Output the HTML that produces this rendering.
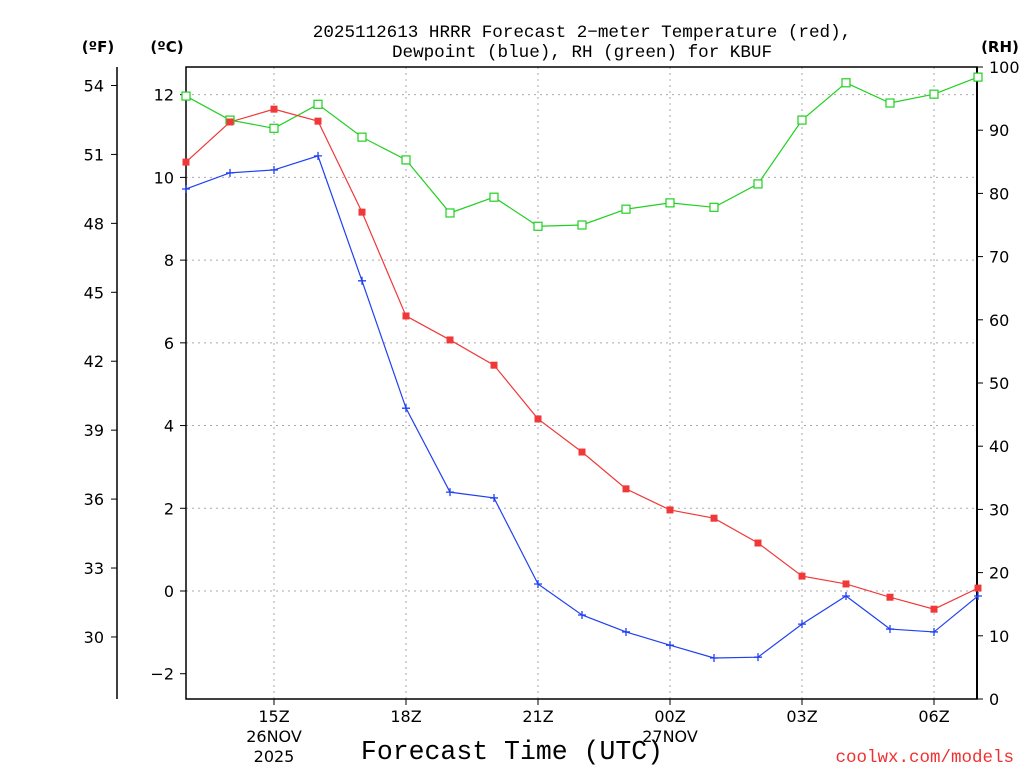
<!DOCTYPE html>
<html><head><meta charset="utf-8"><style>
body{margin:0;background:#fff}
svg{display:block;font-family:"DejaVu Sans","Liberation Sans",sans-serif}
.mono{font-family:"Liberation Mono","DejaVu Sans Mono",monospace}
</style></head><body>
<svg id="c" width="1024" height="768" viewBox="0 0 1024 768">
<g id="grid"></g>
<g id="axes"></g>
<g id="series"></g>
<text class="mono" x="582" y="37" text-anchor="middle" font-size="17.6">2025112613 HRRR Forecast 2−meter Temperature (red),</text>
<text class="mono" x="582" y="57" text-anchor="middle" font-size="17.6">Dewpoint (blue), RH (green) for KBUF</text>
<text x="98" y="52" text-anchor="middle" font-size="15" font-weight="bold">(ºF)</text>
<text x="167" y="52" text-anchor="middle" font-size="15" font-weight="bold">(ºC)</text>
<text x="1000" y="52" text-anchor="middle" font-size="15" font-weight="bold">(RH)</text>
<text class="mono" x="512" y="759" text-anchor="middle" font-size="26.5">Forecast Time (UTC)</text>
<text class="mono" x="1014" y="762" text-anchor="end" font-size="17.5" fill="#f03030">coolwx.com/models</text>
</svg>
<script>
const hours=[13,14,15,16,17,18,19,20,21,22,23,24,25,26,27,28,29,30,31];
const tempC=[10.37,11.34,11.65,11.36,9.16,6.65,6.07,5.46,4.16,3.36,2.47,1.96,1.76,1.16,0.36,0.17,-0.15,-0.44,0.07];
const dewC=[9.72,10.11,10.18,10.52,7.5,4.42,2.39,2.25,0.17,-0.58,-0.99,-1.31,-1.62,-1.6,-0.8,-0.12,-0.92,-0.99,-0.12];
const rh=[95.4,91.6,90.3,94.1,88.9,85.3,76.9,79.4,74.8,75.0,77.5,78.5,77.8,81.5,91.6,97.5,94.3,95.7,98.4];
const cTicks=[-2,0,2,4,6,8,10,12];
const fTicks=[30,33,36,39,42,45,48,51,54];
const rhTicks=[0,10,20,30,40,50,60,70,80,90,100];
const xTicks=[15,18,21,24,27,30];
const xLabels=["15Z","18Z","21Z","00Z","03Z","06Z"];
const L=186,R=977,T=67,B=699;
const x=h=>L+(h-13)*44;
const yC=c=>591-c*41.36;
const yF=f=>yC((f-32)/1.8);
const yR=r=>B-r*(B-T)/100;
const NS="http://www.w3.org/2000/svg";
function mk(p,t,a){const e=document.createElementNS(NS,t);for(const k in a)e.setAttribute(k,a[k]);p.appendChild(e);return e;}
const G=document.getElementById('grid'),A=document.getElementById('axes'),S=document.getElementById('series');
cTicks.forEach(c=>{
 if(c>-2){const g=mk(G,'line',{x1:L,x2:R,y1:yC(c),y2:yC(c),stroke:'#aaa','stroke-dasharray':'2,4'});
 }
 mk(A,'line',{x1:L-6,x2:L,y1:yC(c),y2:yC(c),stroke:'#000'});
 const t=mk(A,'text',{x:L-12,y:yC(c)+6,'text-anchor':'end','font-size':16});t.textContent=c===-2?'−2':c;
 
});
xTicks.forEach((h,i)=>{
 const g=mk(G,'line',{x1:x(h),x2:x(h),y1:T,y2:B,stroke:'#aaa','stroke-dasharray':'2,4'});
 
 mk(A,'line',{x1:x(h),x2:x(h),y1:B,y2:B+6,stroke:'#000'});
 const t=mk(A,'text',{x:x(h),y:722,'text-anchor':'middle','font-size':16});t.textContent=xLabels[i];
 
});
[[x(15),"26NOV","2025"],[x(24),"27NOV",""]].forEach(d=>{
 const t=mk(A,'text',{x:d[0],y:742,'text-anchor':'middle','font-size':16});t.textContent=d[1];
 
 if(d[2]){const u=mk(A,'text',{x:d[0],y:762,'text-anchor':'middle','font-size':16});u.textContent=d[2];
 }
});
const box=mk(A,'rect',{x:L,y:T,width:R-L,height:B-T,fill:'none',stroke:'#000','stroke-width':1.5});

mk(A,'line',{x1:R,x2:R,y1:T,y2:B,stroke:'#000','stroke-width':2});
mk(A,'line',{x1:117,x2:117,y1:T,y2:B,stroke:'#000','stroke-width':1.5});
fTicks.forEach(f=>{
 mk(A,'line',{x1:111,x2:117,y1:yF(f),y2:yF(f),stroke:'#000'});
 const t=mk(A,'text',{x:104,y:yF(f)+6,'text-anchor':'end','font-size':16});t.textContent=f;
 
});
rhTicks.forEach(r=>{
 mk(A,'line',{x1:R,x2:R+6,y1:yR(r),y2:yR(r),stroke:'#000'});
 const t=mk(A,'text',{x:989,y:yR(r)+6,'font-size':16});t.textContent=r;
 
});
function line(vals,yf,col,name){
 const p=mk(S,'polyline',{points:vals.map((v,i)=>x(hours[i])+','+yf(v)).join(' '),fill:'none',stroke:col,'stroke-width':1.2});
 
}
line(rh,yR,'#20d020','rh');line(tempC,yC,'#f03838','temperature');line(dewC,yC,'#2040f0','dewpoint');
rh.forEach((v,i)=>{const m=mk(S,'rect',{x:x(hours[i])-4,y:yR(v)-4,width:8,height:8,fill:'#fff',stroke:'#20d020','stroke-width':1.2});
 });
tempC.forEach((v,i)=>{const m=mk(S,'rect',{x:x(hours[i])-3.5,y:yC(v)-3.5,width:7,height:7,fill:'#f03838'});
 });
dewC.forEach((v,i)=>{const m=mk(S,'path',{d:`M${x(hours[i])-4},${yC(v)}h8M${x(hours[i])},${yC(v)-4}v8`,stroke:'#2040f0','stroke-width':1.3});
 });
</script>
</body></html>
